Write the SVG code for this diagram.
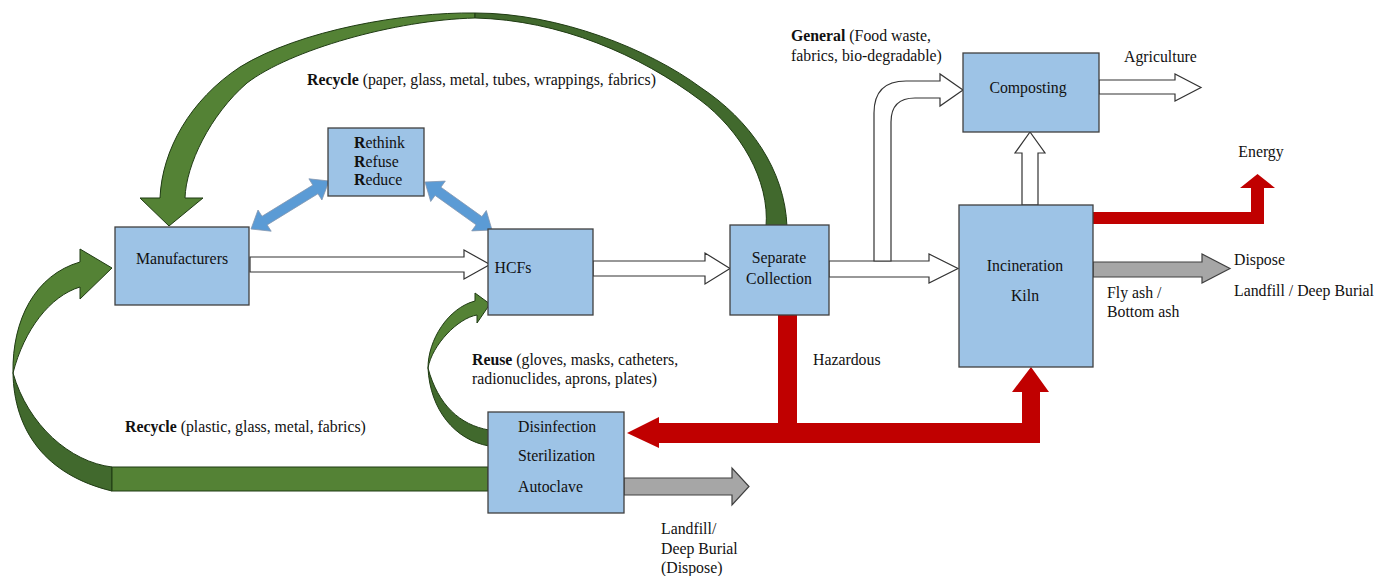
<svg xmlns="http://www.w3.org/2000/svg" width="1387" height="576" viewBox="0 0 1387 576">
<style>
.box{fill:#9dc3e6;stroke:#404040;stroke-width:1.3}
.t{font-family:"Liberation Serif","Times New Roman",serif;font-size:15.8px;fill:#111}
.c{text-anchor:middle}
.b{font-weight:bold}
.wa{fill:#fff;stroke:#333;stroke-width:1.2}
.ga{fill:#a6a6a6;stroke:#404040;stroke-width:1.2}
.red{fill:#c00000}
.gl{fill:#548235;stroke:#1f3b13;stroke-width:1}
.gd{fill:#41692d;stroke:#1f3b13;stroke-width:1}
.ba{fill:#5b9bd5;stroke:#8497b0;stroke-width:0.8}
</style>
<rect width="1387" height="576" fill="#fff"/>
<g id="connectors">
  <!-- top recycle arc -->
  <path class="gl" d="M 475 13 C 405 12, 300 30, 240 67 C 190 100, 162 150, 160 198 L 140 198 L 169 226 L 203 198 L 185 198 C 186 165, 210 115, 247 83 C 290 50, 395 20, 475 18 Z"/>
  <path class="gd" d="M 475 13 C 560 13, 650 50, 700 87 C 750 120, 785 170, 787 227 L 766 227 C 770 180, 740 130, 700 100 C 640 55, 560 20, 475 18 Z"/>
  <!-- left recycle arrow -->
  <path class="gl" d="M 80 262 L 80 249 L 112 268 L 80 299 L 80 287 C 50 296, 24 330, 13 373 C 12 320, 35 275, 80 262 Z"/>
  <path class="gd" d="M 13 373 C 14 430, 45 475, 112 491 L 112 467 C 70 462, 28 425, 13 373 Z"/>
  <rect class="gl" x="112" y="467" width="376" height="24"/>
  <!-- reuse arrow -->
  <path class="gl" d="M 475 301 L 475 293 L 490 304 L 477 323 L 477 315 C 458 318, 432 345, 428 368 C 428 340, 448 308, 475 301 Z"/>
  <path class="gd" d="M 428 368 C 430 410, 455 440, 489 446 L 489 430 C 460 425, 438 405, 428 368 Z"/>
  <!-- blue double arrows -->
  <polygon class="ba" points="251,229 271.2,231.2 267.2,224.9 318,193.7 321.9,200 329,181 308.9,178.8 312.8,185.1 262,216.3 258,210"/>
  <polygon class="ba" points="425,182 430.7,201.5 435.1,195.4 476.1,224.8 471.7,230.9 492,230 486.3,210.5 481.9,216.6 440.9,187.2 445.3,181.1"/>
  <!-- white flow arrows -->
  <path class="wa" d="M 250 257 L 464 257 L 464 250 L 490 264.5 L 464 279 L 464 272 L 250 272 Z"/>
  <path class="wa" d="M 593 261 L 705 261 L 705 253 L 730 268.5 L 705 284 L 705 276 L 593 276 Z"/>
  <path class="wa" d="M 829 261 L 929 261 L 929 254 L 958 268.5 L 929 283 L 929 277 L 829 277 Z"/>
  <path class="wa" d="M 874 261 L 874 113 Q 874 81 906 81 L 940 81 L 940 74 L 963 90 L 940 106 L 940 98 L 915 98 Q 891 98 891 122 L 891 261 Z"/>
  <path class="wa" d="M 1099 80 L 1175 80 L 1175 74 L 1201 87.5 L 1175 101 L 1175 94 L 1099 94 Z"/>
  <path class="wa" d="M 1022 205 L 1022 153 L 1015 153 L 1030 132 L 1045 153 L 1038 153 L 1038 205 Z"/>
  <!-- gray dispose arrows -->
  <path class="ga" d="M 1093 262 L 1202 262 L 1202 254 L 1230 268.5 L 1202 283 L 1202 277 L 1093 277 Z"/>
  <path class="ga" d="M 624 478 L 732 478 L 732 468 L 749 486.5 L 732 505 L 732 495 L 624 495 Z"/>
  <!-- red arrows -->
  <path class="red" d="M 1093 212 L 1251 212 L 1251 188 L 1240 188 L 1257.5 174 L 1275 188 L 1264 188 L 1264 224 L 1093 224 Z"/>
  <rect class="red" x="778" y="315" width="19" height="128"/>
  <path class="red" d="M 1040 443 L 659 443 L 659 448 L 627 433 L 659 417 L 659 423 L 1022 423 L 1022 392 L 1012 392 L 1031 367 L 1049 392 L 1040 392 Z"/>
</g>
<g id="manufacturers">
  <rect class="box" x="115" y="227" width="134" height="78"/>
  <text class="t c" x="182" y="264">Manufacturers</text>
</g>
<g id="rethink">
  <rect class="box" x="328" y="128" width="96" height="68"/>
  <text class="t" x="354" y="148"><tspan class="b">R</tspan>ethink</text>
  <text class="t" x="354" y="167"><tspan class="b">R</tspan>efuse</text>
  <text class="t" x="354" y="185"><tspan class="b">R</tspan>educe</text>
</g>
<g id="hcfs">
  <rect class="box" x="488" y="229" width="105" height="86"/>
  <text class="t c" x="513" y="273">HCFs</text>
</g>
<g id="separate-collection">
  <rect class="box" x="730" y="225" width="99" height="90"/>
  <text class="t c" x="779" y="263">Separate</text>
  <text class="t c" x="779" y="284">Collection</text>
</g>
<g id="composting">
  <rect class="box" x="963" y="53" width="136" height="79"/>
  <text class="t c" x="1028" y="93">Composting</text>
</g>
<g id="incineration">
  <rect class="box" x="959" y="205" width="134" height="162"/>
  <text class="t c" x="1025" y="271">Incineration</text>
  <text class="t c" x="1025" y="301">Kiln</text>
</g>
<g id="disinfection">
  <rect class="box" x="488" y="412" width="136" height="101"/>
  <text class="t" x="518" y="432">Disinfection</text>
  <text class="t" x="518" y="461">Sterilization</text>
  <text class="t" x="518" y="492">Autoclave</text>
</g>
<g id="labels">
  <text class="t" x="307" y="85"><tspan class="b">Recycle</tspan> (paper, glass, metal, tubes, wrappings, fabrics)</text>
  <text class="t" x="791" y="41"><tspan class="b">General</tspan> (Food waste,</text>
  <text class="t" x="791" y="61">fabrics, bio-degradable)</text>
  <text class="t" x="1124" y="62">Agriculture</text>
  <text class="t c" x="1261" y="157">Energy</text>
  <text class="t" x="1234" y="265">Dispose</text>
  <text class="t" x="1234" y="296">Landfill / Deep Burial</text>
  <text class="t" x="1107" y="298">Fly ash /</text>
  <text class="t" x="1107" y="317">Bottom ash</text>
  <text class="t" x="813" y="365">Hazardous</text>
  <text class="t" x="472" y="365"><tspan class="b">Reuse</tspan> (gloves, masks, catheters,</text>
  <text class="t" x="472" y="384">radionuclides, aprons, plates)</text>
  <text class="t" x="125" y="432"><tspan class="b">Recycle</tspan> (plastic, glass, metal, fabrics)</text>
  <text class="t" x="661" y="534">Landfill/</text>
  <text class="t" x="661" y="554">Deep Burial</text>
  <text class="t" x="661" y="573">(Dispose)</text>
</g>
</svg>
